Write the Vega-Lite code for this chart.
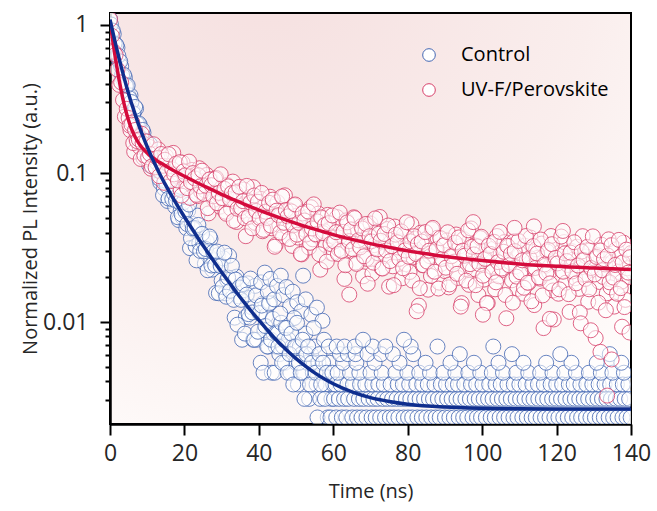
{
"$schema":"https://vega.github.io/schema/vega-lite/v6.json",
"width":521,"height":411,
"autosize":{"type":"none"},
"padding":{"left":110,"top":13,"right":26,"bottom":87},
"background":"white",
"config":{
 "view":{"stroke":"black","strokeWidth":2,"fill":{"gradient":"radial","x1":0.3,"y1":0,"r1":0,"x2":0.3,"y2":0,"r2":1.05,"stops":[{"offset":0,"color":"#f5dfdf"},{"offset":0.6,"color":"#faeeed"},{"offset":1,"color":"#fffdfc"}]}},
 "axis":{"grid":false,"domainColor":"black","domainWidth":2.5,"tickColor":"black","tickWidth":2,"labelFont":"Open Sans","labelFontSize":23,"labelColor":"#262626","titleFont":"Open Sans","titleFontSize":20,"titleFontWeight":"normal","titleColor":"#262626"}
},
"datasets":{
"control":[
{"t":0,"v":1.094},{"t":0.5,"v":0.914},{"t":1,"v":0.866},{"t":1.5,"v":0.736},{"t":2,"v":0.701},{"t":2.5,"v":0.568},{"t":3,"v":0.526},{"t":3.5,"v":0.431},{"t":4,"v":0.441},{"t":4.5,"v":0.389},{"t":5,"v":0.334},{"t":5.5,"v":0.335},{"t":6,"v":0.268},{"t":6.5,"v":0.26},{"t":7,"v":0.273},{"t":7.5,"v":0.214},{"t":8,"v":0.212},{"t":8.5,"v":0.168},{"t":9,"v":0.188},{"t":9.5,"v":0.161},{"t":10,"v":0.158},{"t":10.5,"v":0.114},{"t":11,"v":0.141},{"t":11.5,"v":0.117},{"t":12,"v":0.133},{"t":12.5,"v":0.105},{"t":13,"v":0.106},{"t":13.5,"v":0.0869},{"t":14,"v":0.111},{"t":14.5,"v":0.0793},{"t":15,"v":0.0865},{"t":15.5,"v":0.0652},{"t":16,"v":0.0852},{"t":16.5,"v":0.0697},{"t":17,"v":0.0736},{"t":17.5,"v":0.0597},{"t":18,"v":0.0753},{"t":18.5,"v":0.0485},{"t":19,"v":0.0563},{"t":19.5,"v":0.0506},{"t":20,"v":0.058},{"t":20.5,"v":0.0429},{"t":21,"v":0.0562},{"t":21.5,"v":0.0314},{"t":22,"v":0.0458},{"t":22.5,"v":0.0418},{"t":23,"v":0.0324},{"t":23.5,"v":0.052},{"t":24,"v":0.034},{"t":24.5,"v":0.039},{"t":25,"v":0.0347},{"t":25.5,"v":0.0247},{"t":26,"v":0.0349},{"t":26.5,"v":0.0277},{"t":27,"v":0.0363},{"t":27.5,"v":0.0225},{"t":28,"v":0.026},{"t":28.5,"v":0.0157},{"t":29,"v":0.0282},{"t":29.5,"v":0.0246},{"t":30,"v":0.019},{"t":30.5,"v":0.0268},{"t":31,"v":0.0156},{"t":31.5,"v":0.0192},{"t":32,"v":0.0279},{"t":32.5,"v":0.0164},{"t":33,"v":0.0198},{"t":33.5,"v":0.0107},{"t":34,"v":0.0202},{"t":34.5,"v":0.0149},{"t":35,"v":0.0168},{"t":35.5,"v":0.0076},{"t":36,"v":0.0164},{"t":36.5,"v":0.0108},{"t":37,"v":0.0182},{"t":37.5,"v":0.0107},{"t":38,"v":0.0126},{"t":38.5,"v":0.0076},{"t":39,"v":0.0175},{"t":39.5,"v":0.0076},{"t":40,"v":0.0115},{"t":40.5,"v":0.00532},{"t":41,"v":0.0133},{"t":41.5,"v":0.0088},{"t":42,"v":0.0111},{"t":42.5,"v":0.00684},{"t":43,"v":0.0135},{"t":43.5,"v":0.00456},{"t":44,"v":0.00836},{"t":44.5,"v":0.00684},
{"t":0.25,"v":1.005},{"t":0.75,"v":0.914},{"t":1.25,"v":0.749},{"t":1.75,"v":0.728},{"t":2.25,"v":0.618},{"t":2.75,"v":0.567},{"t":3.25,"v":0.459},{"t":3.75,"v":0.46},{"t":4.25,"v":0.387},{"t":4.75,"v":0.391},{"t":5.25,"v":0.32},{"t":5.75,"v":0.302},{"t":6.25,"v":0.254},{"t":6.75,"v":0.28},{"t":7.25,"v":0.216},{"t":7.75,"v":0.217},{"t":8.25,"v":0.174},{"t":8.75,"v":0.196},{"t":9.25,"v":0.166},{"t":9.75,"v":0.165},{"t":10.25,"v":0.139},{"t":10.75,"v":0.157},{"t":11.25,"v":0.113},{"t":11.75,"v":0.121},{"t":12.25,"v":0.109},{"t":12.75,"v":0.117},{"t":13.25,"v":0.0924},{"t":13.75,"v":0.1088},{"t":14.25,"v":0.0713},{"t":14.75,"v":0.0898},{"t":15.25,"v":0.0824},{"t":15.75,"v":0.0677},{"t":16.25,"v":0.0906},{"t":16.75,"v":0.0671},{"t":17.25,"v":0.0728},{"t":17.75,"v":0.0656},{"t":18.25,"v":0.0507},{"t":18.75,"v":0.0638},{"t":19.25,"v":0.053},{"t":19.75,"v":0.064},
{"t":20.25,"v":0.0555},{"t":20.75,"v":0.0456},{"t":21.25,"v":0.0617},{"t":21.75,"v":0.0366},{"t":22.25,"v":0.0427},{"t":22.75,"v":0.0429},{"t":23.25,"v":0.026},{"t":23.75,"v":0.045},{"t":24.25,"v":0.0301},{"t":24.75,"v":0.0392},{"t":25.25,"v":0.0299},{"t":25.75,"v":0.031},{"t":26.25,"v":0.0223},{"t":26.75,"v":0.0376},{"t":27.25,"v":0.024},{"t":27.75,"v":0.0296},{"t":28.25,"v":0.0241},{"t":28.75,"v":0.0298},{"t":29.25,"v":0.0156},{"t":29.75,"v":0.0238},{"t":30.25,"v":0.0172},{"t":30.75,"v":0.0293},{"t":31.25,"v":0.0148},{"t":31.75,"v":0.0199},{"t":32.25,"v":0.0162},{"t":32.75,"v":0.0239},{"t":33.25,"v":0.0141},{"t":33.75,"v":0.0193},{"t":34.25,"v":0.0096},{"t":34.75,"v":0.0171},{"t":35.25,"v":0.0141},{"t":35.75,"v":0.018},{"t":36.25,"v":0.00836},{"t":36.75,"v":0.0153},{"t":37.25,"v":0.0113},{"t":37.75,"v":0.0196},{"t":38.25,"v":0.0116},{"t":38.75,"v":0.0076},{"t":39.25,"v":0.0151},{"t":39.75,"v":0.0086},{"t":40.25,"v":0.0115},{"t":40.75,"v":0.0129},{"t":41.25,"v":0.00456},{"t":41.75,"v":0.0094},{"t":42.25,"v":0.00684},{"t":42.75,"v":0.0133},{"t":43.25,"v":0.0076},{"t":43.75,"v":0.0105},{"t":44.25,"v":0.00456},{"t":44.75,"v":0.0085},
{"t":40.6,"v":0.0185},{"t":41.6,"v":0.0215},{"t":42.4,"v":0.016},{"t":43.1,"v":0.0195},{"t":44.1,"v":0.0142},{"t":44.9,"v":0.0175},{"t":45.9,"v":0.0205},{"t":46.6,"v":0.0152},{"t":47.4,"v":0.0172},{"t":48.4,"v":0.0128},{"t":49.1,"v":0.016},{"t":50.3,"v":0.0136},{"t":51.4,"v":0.0118},{"t":51.9,"v":0.0205},{"t":52.6,"v":0.0142},{"t":54.1,"v":0.0112},{"t":55.6,"v":0.0125},{"t":57.1,"v":0.0102},
{"t":45,"v":0.00836},{"t":45.5,"v":0.00608},{"t":46,"v":0.00988},{"t":46.5,"v":0.00684},{"t":47,"v":0.00532},{"t":47.5,"v":0.00912},{"t":48,"v":0.0076},{"t":48.5,"v":0.00456},{"t":49,"v":0.00684},{"t":49.5,"v":0.01064},{"t":50,"v":0.00532},{"t":50.5,"v":0.0038},{"t":51,"v":0.00684},{"t":51.5,"v":0.00608},{"t":52,"v":0.00456},{"t":52.5,"v":0.00836},{"t":53,"v":0.00532},{"t":53.5,"v":0.00304},{"t":54,"v":0.00608},{"t":54.5,"v":0.00456},{"t":55,"v":0.00684},{"t":55.5,"v":0.0038},{"t":56,"v":0.00532},{"t":56.5,"v":0.00304},{"t":57,"v":0.00456},{"t":57.5,"v":0.0076},{"t":58,"v":0.0038},{"t":58.5,"v":0.00228},{"t":59,"v":0.00532},{"t":59.5,"v":0.00304},{"t":60,"v":0.0038},
{"t":45.25,"v":0.00684},{"t":45.75,"v":0.0114},{"t":46.25,"v":0.00532},{"t":46.75,"v":0.0076},{"t":47.25,"v":0.00912},{"t":47.75,"v":0.00456},{"t":48.25,"v":0.00608},{"t":48.75,"v":0.00836},{"t":49.25,"v":0.0038},{"t":49.75,"v":0.00684},{"t":50.25,"v":0.00988},{"t":50.75,"v":0.00532},{"t":51.25,"v":0.00456},{"t":51.75,"v":0.0076},{"t":52.25,"v":0.00304},{"t":52.75,"v":0.00608},{"t":53.25,"v":0.00684},{"t":53.75,"v":0.0038},{"t":54.25,"v":0.00532},{"t":54.75,"v":0.00912},{"t":55.25,"v":0.00456},{"t":55.75,"v":0.00228},{"t":56.25,"v":0.00608},{"t":56.75,"v":0.0038},{"t":57.25,"v":0.00532},{"t":57.75,"v":0.00304},{"t":58.25,"v":0.00456},{"t":58.75,"v":0.00684},{"t":59.25,"v":0.00228},{"t":59.75,"v":0.00456},
{"t":60.8,"v":0.00228},{"t":62.3,"v":0.00228},{"t":63.5,"v":0.00228},{"t":65.1,"v":0.00228},{"t":66.4,"v":0.00228},{"t":67.6,"v":0.00228},{"t":68.9,"v":0.00228},{"t":70.3,"v":0.00228},{"t":71.4,"v":0.00228},{"t":72.6,"v":0.00228},{"t":73.9,"v":0.00228},{"t":75.2,"v":0.00228},{"t":76.3,"v":0.00228},{"t":77.5,"v":0.00228},{"t":78.9,"v":0.00228},{"t":80.1,"v":0.00228},{"t":81.2,"v":0.00228},{"t":82.6,"v":0.00228},{"t":83.8,"v":0.00228},{"t":85,"v":0.00228},{"t":86.3,"v":0.00228},{"t":87.5,"v":0.00228},{"t":88.6,"v":0.00228},{"t":90,"v":0.00228},{"t":91.2,"v":0.00228},{"t":92.4,"v":0.00228},{"t":93.7,"v":0.00228},{"t":94.9,"v":0.00228},{"t":96,"v":0.00228},{"t":97.4,"v":0.00228},{"t":98.6,"v":0.00228},{"t":99.7,"v":0.00228},{"t":101,"v":0.00228},{"t":102.3,"v":0.00228},{"t":103.4,"v":0.00228},{"t":104.7,"v":0.00228},{"t":105.9,"v":0.00228},{"t":107.1,"v":0.00228},{"t":108.4,"v":0.00228},{"t":109.5,"v":0.00228},{"t":110.8,"v":0.00228},{"t":112,"v":0.00228},{"t":113.3,"v":0.00228},{"t":114.4,"v":0.00228},{"t":115.7,"v":0.00228},{"t":116.9,"v":0.00228},{"t":118.1,"v":0.00228},{"t":119.4,"v":0.00228},{"t":120.5,"v":0.00228},{"t":121.8,"v":0.00228},{"t":123,"v":0.00228},{"t":124.2,"v":0.00228},{"t":125.5,"v":0.00228},{"t":126.6,"v":0.00228},{"t":127.9,"v":0.00228},{"t":129.1,"v":0.00228},{"t":130.3,"v":0.00228},{"t":131.6,"v":0.00228},{"t":132.7,"v":0.00228},{"t":134,"v":0.00228},{"t":135.2,"v":0.00228},{"t":136.4,"v":0.00228},{"t":137.7,"v":0.00228},{"t":138.8,"v":0.00228},{"t":139.9,"v":0.00228},
{"t":60.2,"v":0.00304},{"t":61.5,"v":0.00304},{"t":62.9,"v":0.00304},{"t":64,"v":0.00304},{"t":65.6,"v":0.00304},{"t":66.9,"v":0.00304},{"t":68.1,"v":0.00304},{"t":69.5,"v":0.00304},{"t":70.8,"v":0.00304},{"t":71.9,"v":0.00304},{"t":73.3,"v":0.00304},{"t":74.5,"v":0.00304},{"t":75.8,"v":0.00304},{"t":77,"v":0.00304},{"t":78.3,"v":0.00304},{"t":79.5,"v":0.00304},{"t":80.7,"v":0.00304},{"t":82,"v":0.00304},{"t":83.2,"v":0.00304},{"t":84.4,"v":0.00304},{"t":85.7,"v":0.00304},{"t":86.8,"v":0.00304},{"t":88.1,"v":0.00304},{"t":89.3,"v":0.00304},{"t":90.6,"v":0.00304},{"t":91.8,"v":0.00304},{"t":93.1,"v":0.00304},{"t":94.2,"v":0.00304},{"t":95.5,"v":0.00304},{"t":96.7,"v":0.00304},{"t":98,"v":0.00304},{"t":99.1,"v":0.00304},{"t":100.4,"v":0.00304},{"t":101.6,"v":0.00304},{"t":102.8,"v":0.00304},{"t":104.1,"v":0.00304},{"t":105.3,"v":0.00304},{"t":106.5,"v":0.00304},{"t":107.7,"v":0.00304},{"t":109,"v":0.00304},{"t":110.2,"v":0.00304},{"t":111.4,"v":0.00304},{"t":112.7,"v":0.00304},{"t":113.8,"v":0.00304},{"t":115.1,"v":0.00304},{"t":116.3,"v":0.00304},{"t":117.5,"v":0.00304},{"t":118.8,"v":0.00304},{"t":120,"v":0.00304},{"t":121.2,"v":0.00304},{"t":122.4,"v":0.00304},{"t":123.7,"v":0.00304},{"t":124.9,"v":0.00304},{"t":126.1,"v":0.00304},{"t":127.3,"v":0.00304},{"t":128.5,"v":0.00304},{"t":129.8,"v":0.00304},{"t":131,"v":0.00304},{"t":132.2,"v":0.00304},{"t":133.4,"v":0.00304},{"t":134.6,"v":0.00304},{"t":135.9,"v":0.00304},{"t":137.1,"v":0.00304},{"t":138.3,"v":0.00304},{"t":139.5,"v":0.00304},
{"t":60.6,"v":0.0038},{"t":62,"v":0.0038},{"t":63.8,"v":0.0038},{"t":65.3,"v":0.0038},{"t":67.2,"v":0.0038},{"t":68.6,"v":0.0038},{"t":70.5,"v":0.0038},{"t":72.1,"v":0.0038},{"t":73.6,"v":0.0038},{"t":75.4,"v":0.0038},{"t":77.3,"v":0.0038},{"t":78.7,"v":0.0038},{"t":80.4,"v":0.0038},{"t":82.3,"v":0.0038},{"t":83.9,"v":0.0038},{"t":85.4,"v":0.0038},{"t":87.2,"v":0.0038},{"t":88.9,"v":0.0038},{"t":90.3,"v":0.0038},{"t":92.1,"v":0.0038},{"t":93.5,"v":0.0038},{"t":95.2,"v":0.0038},{"t":97,"v":0.0038},{"t":98.4,"v":0.0038},{"t":100.1,"v":0.0038},{"t":101.9,"v":0.0038},{"t":103.6,"v":0.0038},{"t":105,"v":0.0038},{"t":106.8,"v":0.0038},{"t":108.5,"v":0.0038},{"t":110,"v":0.0038},{"t":111.7,"v":0.0038},{"t":113.5,"v":0.0038},{"t":115,"v":0.0038},{"t":116.6,"v":0.0038},{"t":118.4,"v":0.0038},{"t":119.9,"v":0.0038},{"t":121.5,"v":0.0038},{"t":123.3,"v":0.0038},{"t":124.6,"v":0.0038},{"t":126.4,"v":0.0038},{"t":128,"v":0.0038},{"t":129.6,"v":0.0038},{"t":131.3,"v":0.0038},{"t":132.9,"v":0.0038},{"t":134.4,"v":0.0038},{"t":136.2,"v":0.0038},{"t":137.8,"v":0.0038},{"t":139.3,"v":0.0038},
{"t":61.2,"v":0.00456},{"t":64.5,"v":0.00456},{"t":67,"v":0.00456},{"t":70,"v":0.00456},{"t":73,"v":0.00456},{"t":76.7,"v":0.00456},{"t":79.9,"v":0.00456},{"t":83.1,"v":0.00456},{"t":86,"v":0.00456},{"t":89.6,"v":0.00456},{"t":92.8,"v":0.00456},{"t":96.3,"v":0.00456},{"t":99.5,"v":0.00456},{"t":102.6,"v":0.00456},{"t":105.6,"v":0.00456},{"t":109.2,"v":0.00456},{"t":112.4,"v":0.00456},{"t":115.6,"v":0.00456},{"t":118.9,"v":0.00456},{"t":122.1,"v":0.00456},{"t":125.2,"v":0.00456},{"t":128.7,"v":0.00456},{"t":131.9,"v":0.00456},{"t":135,"v":0.00456},{"t":138.1,"v":0.00456},
{"t":62.6,"v":0.00532},{"t":66.2,"v":0.00532},{"t":71.1,"v":0.00532},{"t":77.8,"v":0.00532},{"t":84.8,"v":0.00532},{"t":91.5,"v":0.00532},{"t":97.8,"v":0.00532},{"t":104.4,"v":0.00532},{"t":111.1,"v":0.00532},{"t":117.2,"v":0.00532},{"t":124,"v":0.00532},{"t":130.8,"v":0.00532},{"t":137.4,"v":0.00532},
{"t":61.8,"v":0.00608},{"t":63.9,"v":0.00608},{"t":66,"v":0.00608},{"t":69.2,"v":0.00608},{"t":72.8,"v":0.00608},{"t":76,"v":0.00608},{"t":81.5,"v":0.00608},{"t":94,"v":0.00608},{"t":108,"v":0.00608},{"t":121,"v":0.00608},{"t":134.3,"v":0.00608},
{"t":60.9,"v":0.00684},{"t":63,"v":0.00684},{"t":65.8,"v":0.00684},{"t":70.6,"v":0.00684},{"t":74,"v":0.00684},{"t":80.8,"v":0.00684},{"t":88,"v":0.00684},{"t":103,"v":0.00684},{"t":68,"v":0.0076},{"t":79,"v":0.0076}
],
"uvf":[
{"t":0,"v":1.085},{"t":0.5,"v":0.842},{"t":1,"v":0.659},{"t":1.5,"v":0.628},{"t":2,"v":0.5},{"t":2.5,"v":0.394},{"t":3,"v":0.41},{"t":3.5,"v":0.312},{"t":4,"v":0.241},{"t":4.5,"v":0.272},{"t":5,"v":0.236},{"t":5.5,"v":0.195},{"t":6,"v":0.22},{"t":6.5,"v":0.14},{"t":7,"v":0.171},{"t":7.5,"v":0.179},{"t":8,"v":0.15},{"t":8.5,"v":0.185},{"t":9,"v":0.127},{"t":9.5,"v":0.146},{"t":10,"v":0.125},{"t":10.5,"v":0.151},{"t":11,"v":0.1075},{"t":11.5,"v":0.136},{"t":12,"v":0.127},{"t":12.5,"v":0.119},{"t":13,"v":0.145},{"t":13.5,"v":0.103},{"t":14,"v":0.127},{"t":14.5,"v":0.0864},{"t":15,"v":0.131},{"t":15.5,"v":0.102},{"t":16,"v":0.1124},{"t":16.5,"v":0.0893},{"t":17,"v":0.1374},{"t":17.5,"v":0.0963},{"t":18,"v":0.1147},{"t":18.5,"v":0.0993},{"t":19,"v":0.0775},{"t":19.5,"v":0.118},{"t":20,"v":0.1039},{"t":20.5,"v":0.0818},{"t":21,"v":0.0951},{"t":21.5,"v":0.0684},{"t":22,"v":0.1055},{"t":22.5,"v":0.0854},{"t":23,"v":0.0985},{"t":23.5,"v":0.0703},{"t":24,"v":0.1083},{"t":24.5,"v":0.075},{"t":25,"v":0.0891},{"t":25.5,"v":0.0769},{"t":26,"v":0.0976},{"t":26.5,"v":0.0538},{"t":27,"v":0.0911},{"t":27.5,"v":0.0781},{"t":28,"v":0.0665},{"t":28.5,"v":0.0932},{"t":29,"v":0.0724},{"t":29.5,"v":0.0597},
{"t":30,"v":0.08},{"t":30.5,"v":0.0663},{"t":31,"v":0.0552},{"t":31.5,"v":0.0835},{"t":32,"v":0.0713},{"t":32.5,"v":0.0579},{"t":33,"v":0.0881},{"t":33.5,"v":0.065},{"t":34,"v":0.0471},{"t":34.5,"v":0.0756},{"t":35,"v":0.0686},{"t":35.5,"v":0.0558},{"t":36,"v":0.0777},{"t":36.5,"v":0.0378},{"t":37,"v":0.0608},{"t":37.5,"v":0.0695},{"t":38,"v":0.0559},{"t":38.5,"v":0.0808},{"t":39,"v":0.0465},{"t":39.5,"v":0.0607},{"t":40,"v":0.0487},{"t":40.5,"v":0.0674},{"t":41,"v":0.0408},{"t":41.5,"v":0.0605},{"t":42,"v":0.0554},{"t":42.5,"v":0.0515},{"t":43,"v":0.0697},{"t":43.5,"v":0.0427},{"t":44,"v":0.0596},{"t":44.5,"v":0.033},{"t":45,"v":0.064},{"t":45.5,"v":0.045},{"t":46,"v":0.0526},{"t":46.5,"v":0.0377},{"t":47,"v":0.0712},{"t":47.5,"v":0.0437},{"t":48,"v":0.0568},{"t":48.5,"v":0.0469},{"t":49,"v":0.0325},{"t":49.5,"v":0.061},{"t":50,"v":0.0518},{"t":50.5,"v":0.037},{"t":51,"v":0.0467},{"t":51.5,"v":0.0285},{"t":52,"v":0.055},{"t":52.5,"v":0.0415},{"t":53,"v":0.0511},{"t":53.5,"v":0.0317},{"t":54,"v":0.0592},{"t":54.5,"v":0.036},{"t":55,"v":0.0465},{"t":55.5,"v":0.0383},{"t":56,"v":0.0536},{"t":56.5,"v":0.0225},{"t":57,"v":0.0499},{"t":57.5,"v":0.0409},{"t":58,"v":0.0329},{"t":58.5,"v":0.0526},{"t":59,"v":0.038},{"t":59.5,"v":0.029},
{"t":60,"v":0.0288},{"t":60.5,"v":0.037},{"t":61,"v":0.0508},{"t":61.5,"v":0.0309},{"t":62,"v":0.038},{"t":62.5,"v":0.0461},{"t":63,"v":0.0195},{"t":63.5,"v":0.0483},{"t":64,"v":0.0333},{"t":64.5,"v":0.0403},{"t":65,"v":0.0301},{"t":65.5,"v":0.0507},{"t":66,"v":0.0251},{"t":66.5,"v":0.042},{"t":67,"v":0.0328},{"t":67.5,"v":0.0441},{"t":68,"v":0.0203},{"t":68.5,"v":0.0356},{"t":69,"v":0.0266},{"t":69.5,"v":0.0388},{"t":70,"v":0.046},{"t":70.5,"v":0.0212},{"t":71,"v":0.0329},{"t":71.5,"v":0.0405},{"t":72,"v":0.029},{"t":72.5,"v":0.0509},{"t":73,"v":0.023},{"t":73.5,"v":0.0345},{"t":74,"v":0.0278},{"t":74.5,"v":0.0422},{"t":75,"v":0.0173},{"t":75.5,"v":0.0376},{"t":76,"v":0.0237},{"t":76.5,"v":0.0439},{"t":77,"v":0.0293},{"t":77.5,"v":0.0317},{"t":78,"v":0.0349},{"t":78.5,"v":0.0197},{"t":79,"v":0.0388},{"t":79.5,"v":0.0245},{"t":80,"v":0.0326},{"t":80.5,"v":0.0217},{"t":81,"v":0.0455},{"t":81.5,"v":0.0272},{"t":82,"v":0.0362},{"t":82.5,"v":0.0294},{"t":83,"v":0.0129},{"t":83.5,"v":0.0399},{"t":84,"v":0.0241},{"t":84.5,"v":0.0322},{"t":85,"v":0.0361},{"t":85.5,"v":0.0165},{"t":86,"v":0.0277},{"t":86.5,"v":0.0422},{"t":87,"v":0.0218},{"t":87.5,"v":0.0298},{"t":88,"v":0.0369},{"t":88.5,"v":0.0184},{"t":89,"v":0.0246},{"t":89.5,"v":0.0325},
{"t":90,"v":0.022},{"t":90.5,"v":0.0354},{"t":91,"v":0.0171},{"t":91.5,"v":0.0313},{"t":92,"v":0.028},{"t":92.5,"v":0.0255},{"t":93,"v":0.0388},{"t":93.5,"v":0.0198},{"t":94,"v":0.0323},{"t":94.5,"v":0.0134},{"t":95,"v":0.0361},{"t":95.5,"v":0.0227},{"t":96,"v":0.0285},{"t":96.5,"v":0.0178},{"t":97,"v":0.0426},{"t":97.5,"v":0.0227},{"t":98,"v":0.0328},{"t":98.5,"v":0.0257},{"t":99,"v":0.0152},{"t":99.5,"v":0.0367},{"t":100,"v":0.0301},{"t":100.5,"v":0.0193},{"t":101,"v":0.0269},{"t":101.5,"v":0.0134},{"t":102,"v":0.0337},{"t":102.5,"v":0.0236},{"t":103,"v":0.0311},{"t":103.5,"v":0.0166},{"t":104,"v":0.0379},{"t":104.5,"v":0.0203},{"t":105,"v":0.0286},{"t":105.5,"v":0.0224},{"t":106,"v":0.0345},{"t":106.5,"v":0.0106},{"t":107,"v":0.0321},{"t":107.5,"v":0.0253},{"t":108,"v":0.0191},{"t":108.5,"v":0.0349},{"t":109,"v":0.0236},{"t":109.5,"v":0.0167},{"t":110,"v":0.0291},{"t":110.5,"v":0.0215},{"t":111,"v":0.0155},{"t":111.5,"v":0.0326},{"t":112,"v":0.0259},{"t":112.5,"v":0.0183},{"t":113,"v":0.037},{"t":113.5,"v":0.0235},{"t":114,"v":0.013},{"t":114.5,"v":0.0308},{"t":115,"v":0.0271},{"t":115.5,"v":0.0196},{"t":116,"v":0.0337},{"t":116.5,"v":0.0091},{"t":117,"v":0.0239},{"t":117.5,"v":0.0298},{"t":118,"v":0.0216},{"t":118.5,"v":0.0379},{"t":119,"v":0.0163},{"t":119.5,"v":0.0259},
{"t":120,"v":0.0259},{"t":120.5,"v":0.0155},{"t":121,"v":0.0295},{"t":121.5,"v":0.0221},{"t":122,"v":0.0345},{"t":122.5,"v":0.0184},{"t":123,"v":0.0242},{"t":123.5,"v":0.0117},{"t":124,"v":0.03},{"t":124.5,"v":0.0263},{"t":125,"v":0.0197},{"t":125.5,"v":0.0321},{"t":126,"v":0.0167},{"t":126.5,"v":0.0233},{"t":127,"v":0.0378},{"t":127.5,"v":0.021},{"t":128,"v":0.0276},{"t":128.5,"v":0.0137},{"t":129,"v":0.0304},{"t":129.5,"v":0.0224},{"t":130,"v":0.0268},{"t":130.5,"v":0.0078},{"t":131,"v":0.0281},{"t":131.5,"v":0.0186},{"t":132,"v":0.0332},{"t":132.5,"v":0.0201},{"t":133,"v":0.0244},{"t":133.5,"v":0.0156},{"t":134,"v":0.036},{"t":134.5,"v":0.0171},{"t":135,"v":0.0253},{"t":135.5,"v":0.0127},{"t":136,"v":0.0308},{"t":136.5,"v":0.0217},{"t":137,"v":0.0274},{"t":137.5,"v":0.0187},{"t":138,"v":0.0342},{"t":138.5,"v":0.0141},{"t":139,"v":0.023},{"t":139.5,"v":0.0201},{"t":140,"v":0.0291},
{"t":5.25,"v":0.21},{"t":5.75,"v":0.213},{"t":6.25,"v":0.16},{"t":6.75,"v":0.196},{"t":7.25,"v":0.165},{"t":7.75,"v":0.169},{"t":8.25,"v":0.125},{"t":8.75,"v":0.16},{"t":9.25,"v":0.132},{"t":9.75,"v":0.164},{"t":10.25,"v":0.128},{"t":10.75,"v":0.135},{"t":11.25,"v":0.1115},{"t":11.75,"v":0.157},{"t":12.25,"v":0.11},{"t":12.75,"v":0.127},{"t":13.25,"v":0.0958},{"t":13.75,"v":0.135},{"t":14.25,"v":0.1126},{"t":14.75,"v":0.1235},{"t":15.25,"v":0.1022},{"t":15.75,"v":0.1347},{"t":16.25,"v":0.0887},{"t":16.75,"v":0.1065},{"t":17.25,"v":0.0986},{"t":17.75,"v":0.1163},{"t":18.25,"v":0.0895},{"t":18.75,"v":0.119},{"t":19.25,"v":0.0709},{"t":19.75,"v":0.1031},{"t":20.25,"v":0.0972},{"t":20.75,"v":0.0796},{"t":21.25,"v":0.12},{"t":21.75,"v":0.0874},{"t":22.25,"v":0.1005},{"t":22.75,"v":0.0927},{"t":23.25,"v":0.0717},{"t":23.75,"v":0.0972},{"t":24.25,"v":0.0818},{"t":24.75,"v":0.1043},{"t":25.25,"v":0.0727},{"t":25.75,"v":0.0826},{"t":26.25,"v":0.0584},{"t":26.75,"v":0.0911},{"t":27.25,"v":0.0833},{"t":27.75,"v":0.0702},{"t":28.25,"v":0.0917},{"t":28.75,"v":0.0631},{"t":29.25,"v":0.0739},{"t":29.75,"v":0.0986},
{"t":30.25,"v":0.0681},{"t":30.75,"v":0.0787},{"t":31.25,"v":0.0535},{"t":31.75,"v":0.0818},{"t":32.25,"v":0.0671},{"t":32.75,"v":0.0737},{"t":33.25,"v":0.048},{"t":33.75,"v":0.0744},{"t":34.25,"v":0.0578},{"t":34.75,"v":0.0812},{"t":35.25,"v":0.0586},{"t":35.75,"v":0.065},{"t":36.25,"v":0.0499},{"t":36.75,"v":0.0824},{"t":37.25,"v":0.051},{"t":37.75,"v":0.0638},{"t":38.25,"v":0.0427},{"t":38.75,"v":0.071},{"t":39.25,"v":0.0559},{"t":39.75,"v":0.0644},{"t":40.25,"v":0.0501},{"t":40.75,"v":0.0739},{"t":41.25,"v":0.0417},{"t":41.75,"v":0.0552},{"t":42.25,"v":0.0501},{"t":42.75,"v":0.0634},{"t":43.25,"v":0.0445},{"t":43.75,"v":0.0666},{"t":44.25,"v":0.0321},{"t":44.75,"v":0.0561},{"t":45.25,"v":0.0523},{"t":45.75,"v":0.04},{"t":46.25,"v":0.07},{"t":46.75,"v":0.0465},{"t":47.25,"v":0.0566},{"t":47.75,"v":0.0514},{"t":48.25,"v":0.0362},{"t":48.75,"v":0.0555},{"t":49.25,"v":0.0447},{"t":49.75,"v":0.0618},{"t":50.25,"v":0.0387},{"t":50.75,"v":0.0465},{"t":51.25,"v":0.0287},{"t":51.75,"v":0.0537},{"t":52.25,"v":0.0482},{"t":52.75,"v":0.0388},{"t":53.25,"v":0.0554},{"t":53.75,"v":0.0341},{"t":54.25,"v":0.0426},{"t":54.75,"v":0.0619},
{"t":55.25,"v":0.039},{"t":55.75,"v":0.0475},{"t":56.25,"v":0.0286},{"t":56.75,"v":0.0506},{"t":57.25,"v":0.0396},{"t":57.75,"v":0.045},{"t":58.25,"v":0.0255},{"t":58.75,"v":0.0463},{"t":59.25,"v":0.0335},{"t":59.75,"v":0.0521},{"t":60.25,"v":0.0348},{"t":60.75,"v":0.0402},{"t":61.25,"v":0.0287},{"t":61.75,"v":0.0545},{"t":62.25,"v":0.0301},{"t":62.75,"v":0.0404},{"t":63.25,"v":0.0241},{"t":63.75,"v":0.0468},{"t":64.25,"v":0.035},{"t":64.75,"v":0.042},{"t":65.25,"v":0.0309},{"t":65.75,"v":0.05},{"t":66.25,"v":0.0246},{"t":66.75,"v":0.0355},{"t":67.25,"v":0.0318},{"t":67.75,"v":0.0426},{"t":68.25,"v":0.0277},{"t":68.75,"v":0.0457},{"t":69.25,"v":0.0181},{"t":69.75,"v":0.0378},{"t":70.25,"v":0.0349},{"t":70.75,"v":0.0251},{"t":71.25,"v":0.0498},{"t":71.75,"v":0.0308},{"t":72.25,"v":0.0393},{"t":72.75,"v":0.0352},{"t":73.25,"v":0.0229},{"t":73.75,"v":0.0391},{"t":74.25,"v":0.0303},{"t":74.75,"v":0.0446},{"t":75.25,"v":0.0257},{"t":75.75,"v":0.0324},{"t":76.25,"v":0.0177},{"t":76.75,"v":0.0387},{"t":77.25,"v":0.0344},{"t":77.75,"v":0.0266},{"t":78.25,"v":0.0407},{"t":78.75,"v":0.023},{"t":79.25,"v":0.0303},{"t":79.75,"v":0.0469},
{"t":80.25,"v":0.0275},{"t":80.75,"v":0.0349},{"t":81.25,"v":0.019},{"t":81.75,"v":0.0378},{"t":82.25,"v":0.0287},{"t":82.75,"v":0.0335},{"t":83.25,"v":0.0169},{"t":83.75,"v":0.0348},{"t":84.25,"v":0.0241},{"t":84.75,"v":0.0403},{"t":85.25,"v":0.0255},{"t":85.75,"v":0.0302},{"t":86.25,"v":0.0204},{"t":86.75,"v":0.043},{"t":87.25,"v":0.0218},{"t":87.75,"v":0.0309},{"t":88.25,"v":0.0168},{"t":88.75,"v":0.0367},{"t":89.25,"v":0.0266},{"t":89.75,"v":0.0329},{"t":90.25,"v":0.0232},{"t":90.75,"v":0.0402},{"t":91.25,"v":0.0179},{"t":91.75,"v":0.0277},{"t":92.25,"v":0.0244},{"t":92.75,"v":0.0342},{"t":93.25,"v":0.0211},{"t":93.75,"v":0.0371},{"t":94.25,"v":0.0127},{"t":94.75,"v":0.0302},{"t":95.25,"v":0.0279},{"t":95.75,"v":0.019},{"t":96.25,"v":0.0414},{"t":96.75,"v":0.0245},{"t":97.25,"v":0.0321},{"t":97.75,"v":0.0285},{"t":98.25,"v":0.0177},{"t":98.75,"v":0.0323},{"t":99.25,"v":0.0245},{"t":99.75,"v":0.0375},{"t":100.25,"v":0.0205},{"t":100.75,"v":0.0266},{"t":101.25,"v":0.0134},{"t":101.75,"v":0.0326},{"t":102.25,"v":0.0287},{"t":102.75,"v":0.0217},{"t":103.25,"v":0.0346},{"t":103.75,"v":0.0185},{"t":104.25,"v":0.0253},{"t":104.75,"v":0.0404},
{"t":105.25,"v":0.0229},{"t":105.75,"v":0.0297},{"t":106.25,"v":0.0152},{"t":106.75,"v":0.0326},{"t":107.25,"v":0.0241},{"t":107.75,"v":0.0287},{"t":108.25,"v":0.0135},{"t":108.75,"v":0.03},{"t":109.25,"v":0.0202},{"t":109.75,"v":0.0351},{"t":110.25,"v":0.0216},{"t":110.75,"v":0.026},{"t":111.25,"v":0.017},{"t":111.75,"v":0.0379},{"t":112.25,"v":0.0184},{"t":112.75,"v":0.0269},{"t":113.25,"v":0.0138},{"t":113.75,"v":0.0324},{"t":114.25,"v":0.0231},{"t":114.75,"v":0.0289},{"t":115.25,"v":0.02},{"t":115.75,"v":0.0359},{"t":116.25,"v":0.0151},{"t":116.75,"v":0.0244},{"t":117.25,"v":0.0213},{"t":117.75,"v":0.0306},{"t":118.25,"v":0.0182},{"t":118.75,"v":0.0334},{"t":119.25,"v":0.0104},{"t":119.75,"v":0.027},{"t":120.25,"v":0.0248},{"t":120.75,"v":0.0166},{"t":121.25,"v":0.0376},{"t":121.75,"v":0.0218},{"t":122.25,"v":0.029},{"t":122.75,"v":0.0257},{"t":123.25,"v":0.0154},{"t":123.75,"v":0.0293},{"t":124.25,"v":0.0219},{"t":124.75,"v":0.0344},{"t":125.25,"v":0.0182},{"t":125.75,"v":0.024},{"t":126.25,"v":0.0116},{"t":126.75,"v":0.0298},{"t":127.25,"v":0.0261},{"t":127.75,"v":0.0195},{"t":128.25,"v":0.032},{"t":128.75,"v":0.0166},{"t":129.25,"v":0.0231},{"t":129.75,"v":0.0377},
{"t":130.25,"v":0.0209},{"t":130.75,"v":0.0274},{"t":131.25,"v":0.0135},{"t":131.75,"v":0.0303},{"t":132.25,"v":0.0223},{"t":132.75,"v":0.0265},{"t":133.25,"v":0.012},{"t":133.75,"v":0.028},{"t":134.25,"v":0.0185},{"t":134.75,"v":0.0329},{"t":135.25,"v":0.0199},{"t":135.75,"v":0.0242},{"t":136.25,"v":0.0155},{"t":136.75,"v":0.0357},{"t":137.25,"v":0.0169},{"t":137.75,"v":0.0252},{"t":138.25,"v":0.0126},{"t":138.75,"v":0.0307},{"t":139.25,"v":0.0215},{"t":139.75,"v":0.0273},
{"t":64.3,"v":0.0153},{"t":82.4,"v":0.0118},{"t":100.2,"v":0.0112},{"t":118.2,"v":0.0105},{"t":126.5,"v":0.0098},{"t":129.2,"v":0.0088},{"t":131.8,"v":0.0063},{"t":133.6,"v":0.0032},{"t":134.8,"v":0.0056},{"t":137.6,"v":0.0093},{"t":139.6,"v":0.0085},{"t":97.6,"v":0.047},{"t":108.7,"v":0.043},{"t":113.9,"v":0.044},{"t":121.7,"v":0.041}
],
"fitc":[
{"t":0,"v":1.083},{"t":0.5,"v":0.952},{"t":1,"v":0.84},{"t":1.5,"v":0.742},{"t":2,"v":0.659},{"t":2.5,"v":0.586},{"t":3,"v":0.523},{"t":3.5,"v":0.469},{"t":4,"v":0.421},{"t":4.5,"v":0.38},{"t":5,"v":0.344},{"t":5.5,"v":0.312},{"t":6,"v":0.285},{"t":7,"v":0.239},{"t":8,"v":0.2025},{"t":9,"v":0.174},{"t":10,"v":0.151},{"t":11,"v":0.132},{"t":12,"v":0.1164},{"t":13,"v":0.1035},{"t":14,"v":0.0924},{"t":15,"v":0.083},{"t":16,"v":0.0748},{"t":17,"v":0.0677},{"t":18,"v":0.0615},{"t":19,"v":0.0559},{"t":20,"v":0.0509},{"t":22,"v":0.0426},{"t":24,"v":0.0356},{"t":26,"v":0.0301},{"t":28,"v":0.0254},{"t":30,"v":0.0216},{"t":32,"v":0.0185},{"t":34,"v":0.0158},{"t":36,"v":0.0136},{"t":38,"v":0.0118},{"t":40,"v":0.0103},{"t":42,"v":0.009},{"t":44,"v":0.0079},{"t":46,"v":0.00703},{"t":48,"v":0.00629},{"t":50,"v":0.00567},{"t":52,"v":0.00517},{"t":55,"v":0.00455},{"t":58,"v":0.00409},{"t":60,"v":0.00384},{"t":65,"v":0.00339},{"t":70,"v":0.0031},{"t":75,"v":0.00292},{"t":80,"v":0.0028},{"t":90,"v":0.00268},{"t":100,"v":0.00263},{"t":110,"v":0.00261},{"t":120,"v":0.0026},{"t":140,"v":0.0026}
],
"fitu":[
{"t":0,"v":1.0555},{"t":0.5,"v":0.86},{"t":1,"v":0.707},{"t":1.5,"v":0.587},{"t":2,"v":0.493},{"t":2.5,"v":0.419},{"t":3,"v":0.361},{"t":3.5,"v":0.315},{"t":4,"v":0.279},{"t":4.5,"v":0.25},{"t":5,"v":0.227},{"t":5.5,"v":0.208},{"t":6,"v":0.193},{"t":7,"v":0.171},{"t":8,"v":0.156},{"t":9,"v":0.145},{"t":10,"v":0.137},{"t":11,"v":0.13},{"t":12,"v":0.125},{"t":13,"v":0.12},{"t":14,"v":0.116},{"t":16,"v":0.1084},{"t":18,"v":0.1017},{"t":20,"v":0.0957},{"t":22,"v":0.0903},{"t":24,"v":0.0852},{"t":26,"v":0.0806},{"t":28,"v":0.0764},{"t":30,"v":0.0723},{"t":33,"v":0.067},{"t":36,"v":0.0622},{"t":40,"v":0.0567},{"t":44,"v":0.052},{"t":48,"v":0.0479},{"t":52,"v":0.0444},{"t":56,"v":0.0414},{"t":60,"v":0.0387},{"t":65,"v":0.036},{"t":70,"v":0.0337},{"t":75,"v":0.0318},{"t":80,"v":0.0301},{"t":85,"v":0.0288},{"t":90,"v":0.0276},{"t":95,"v":0.0267},{"t":100,"v":0.0259},{"t":110,"v":0.0246},{"t":120,"v":0.0237},{"t":130,"v":0.0231},{"t":140,"v":0.0226}
]
},
"layer":[
{"data":{"name":"control"},
 "mark":{"type":"point","shape":"circle","size":225,"filled":false,"fill":"white","fillOpacity":0.55,"strokeWidth":0.9,"strokeOpacity":0.9,"clip":true},
 "encoding":{
  "x":{"field":"t","type":"quantitative","scale":{"domain":[0,140],"nice":false,"zero":false},
   "axis":{"values":[0,10,20,30,40,50,60,70,80,90,100,110,120,130,140],"labelExpr":"datum.value % 20 === 0 ? datum.label : ''","tickSize":{"condition":{"test":"datum.value % 20 === 0","value":11},"value":6},"labelFlush":false,"labelOverlap":false,"labelPadding":7,"title":"Time (ns)","titlePadding":16}},
  "y":{"field":"v","type":"quantitative","scale":{"type":"log","domain":[0.00206,1.2],"nice":false},
   "axis":{"values":[0.003,0.004,0.005,0.006,0.007,0.008,0.009,0.01,0.02,0.03,0.04,0.05,0.06,0.07,0.08,0.09,0.1,0.2,0.3,0.4,0.5,0.6,0.7,0.8,0.9,1],"labelExpr":"datum.value === 1 ? '1' : datum.value === 0.1 ? '0.1' : datum.value === 0.01 ? '0.01' : ''","tickSize":{"condition":{"test":"datum.value === 1 || datum.value === 0.1 || datum.value === 0.01","value":10},"value":5},"labelOverlap":false,"labelPadding":12,"title":"Normalized PL Intensity (a.u.)","titlePadding":2}},
  "stroke":{"datum":"Control","type":"nominal","scale":{"domain":["Control","UV-F/Perovskite"],"range":["#4468b4","#d8406a"]},
   "legend":{"title":null,"orient":"none","legendX":309,"legendY":32,"direction":"vertical","padding":0,"symbolType":"circle","symbolSize":160,"symbolStrokeWidth":1,"symbolFillColor":"white","labelFont":"Open Sans","labelFontSize":20,"labelOffset":22,"rowPadding":15,
    "labelExpr":"datum.value === 'Control' ? '\u00a0Control' : datum.label",
    "encode":{"labels":{"update":{"fill":{"signal":"datum.value === 'Control' ? '#3d62ad' : '#c41c4a'"}}}}}}
 }},
{"data":{"name":"uvf"},
 "mark":{"type":"point","shape":"circle","size":225,"filled":false,"fill":"white","fillOpacity":0.55,"strokeWidth":0.9,"strokeOpacity":0.9,"clip":true},
 "encoding":{
  "x":{"field":"t","type":"quantitative"},
  "y":{"field":"v","type":"quantitative"},
  "stroke":{"datum":"UV-F/Perovskite","type":"nominal"}
 }},
{"data":{"name":"fitu"},
 "mark":{"type":"line","color":"#d40b3c","strokeWidth":3.5,"interpolate":"monotone","clip":true},
 "encoding":{"x":{"field":"t","type":"quantitative"},"y":{"field":"v","type":"quantitative"}}},
{"data":{"name":"fitc"},
 "mark":{"type":"line","color":"#0f2e8e","strokeWidth":3.5,"interpolate":"monotone","clip":true},
 "encoding":{"x":{"field":"t","type":"quantitative"},"y":{"field":"v","type":"quantitative"}}}
]
}
